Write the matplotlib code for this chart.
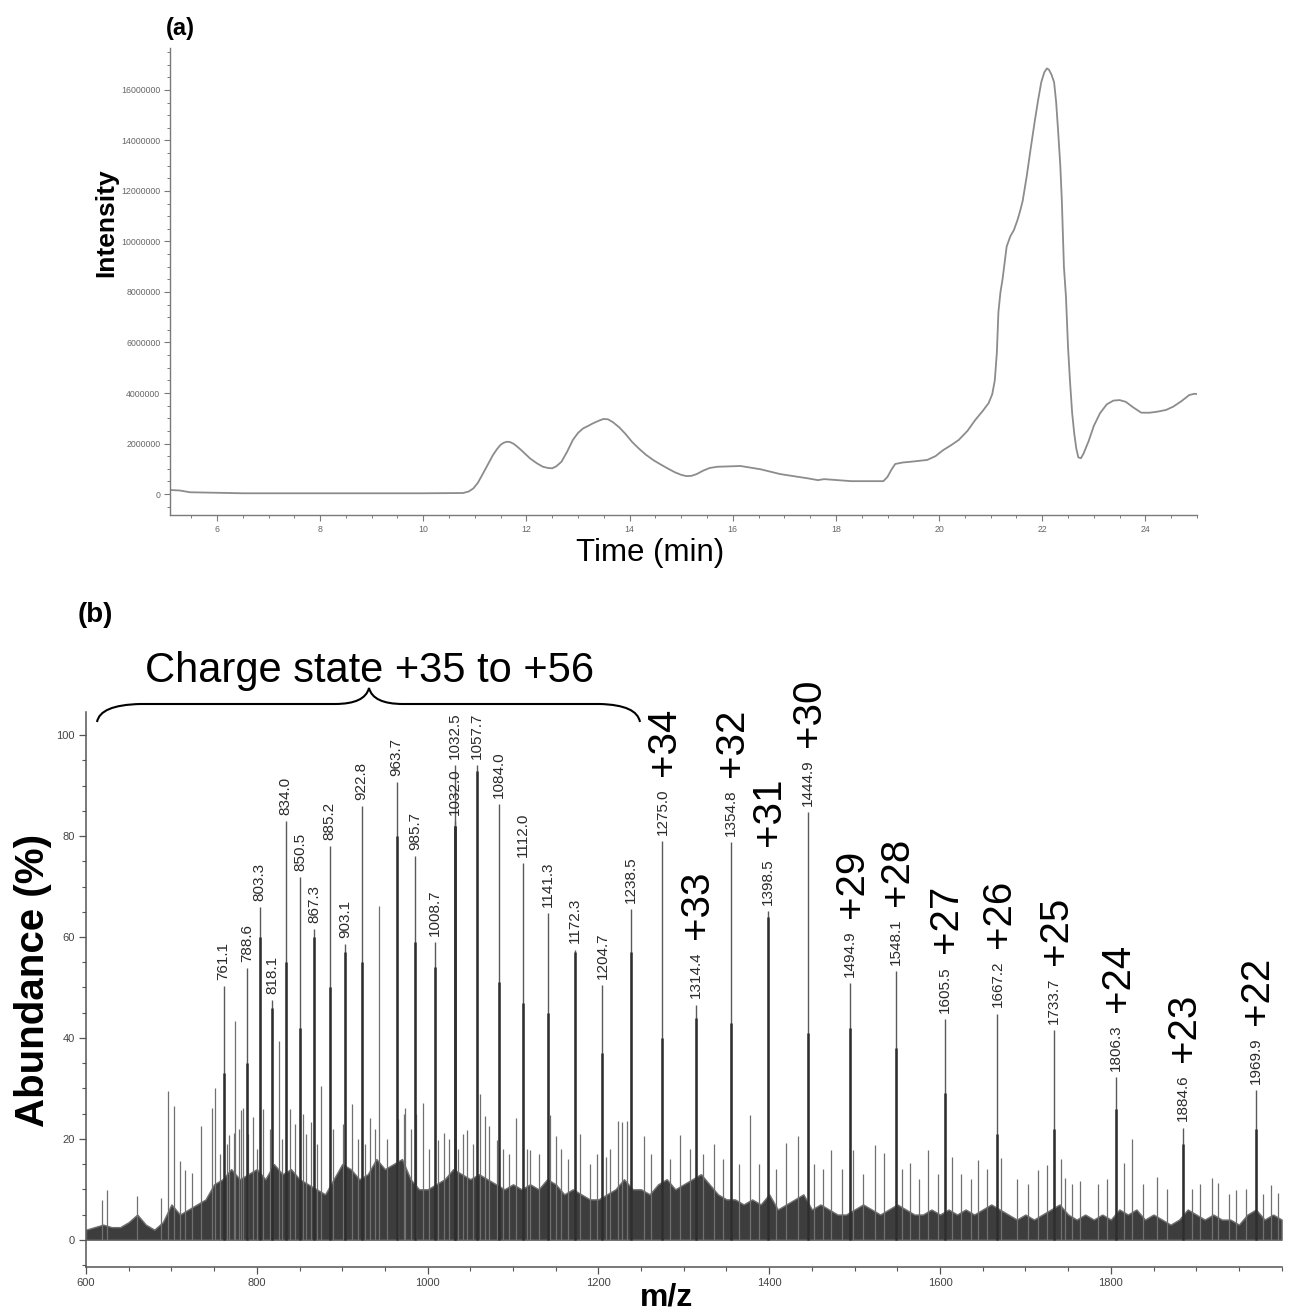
import matplotlib
matplotlib.use("Agg")
import matplotlib.pyplot as plt
from matplotlib.path import Path
from matplotlib.patches import PathPatch
from matplotlib.ticker import MultipleLocator, FuncFormatter

plt.rcParams['font.family'] = ['Liberation Sans', 'DejaVu Sans']

# ---------------- Panel (a): chromatogram ----------------
time_min = [5.09, 5.28, 5.48, 5.8, 6.0, 6.5, 8.0, 10.0, 10.77, 10.88, 10.97, 11.06, 11.16,
            11.26, 11.35, 11.43, 11.5, 11.56, 11.62, 11.68, 11.75, 11.82, 11.92, 12.07, 12.2,
            12.32, 12.42, 12.5, 12.58, 12.68, 12.79, 12.9, 13.0, 13.1, 13.2, 13.29, 13.4,
            13.49, 13.58, 13.68, 13.8, 13.92, 14.05, 14.18, 14.32, 14.47, 14.62, 14.75,
            14.88, 15.0, 15.1, 15.2, 15.3, 15.42, 15.55, 15.7, 16.15, 16.54, 16.92, 17.2,
            17.46, 17.65, 17.77, 18.3, 18.92, 19.0, 19.08, 19.15, 19.3, 19.46, 19.77, 19.93,
            20.08, 20.23, 20.38, 20.55, 20.7, 20.85, 20.96, 21.03, 21.08, 21.12, 21.15, 21.19,
            21.23, 21.31, 21.38, 21.45, 21.52, 21.57, 21.62, 21.7, 21.77, 21.85, 21.92, 21.98,
            22.04, 22.09, 22.13, 22.18, 22.23, 22.27, 22.31, 22.35, 22.38, 22.42, 22.46, 22.5,
            22.54, 22.58, 22.62, 22.66, 22.7, 22.75, 22.8, 22.9, 23.0, 23.12, 23.25, 23.38,
            23.5, 23.62, 23.75, 23.92, 24.08, 24.23, 24.4, 24.54, 24.7, 24.85, 24.95, 25.0]
intensity_M = [0.16, 0.14, 0.07, 0.06, 0.05, 0.03, 0.03, 0.03, 0.04, 0.1, 0.22, 0.45, 0.82,
               1.2, 1.54, 1.78, 1.95, 2.03, 2.07, 2.06, 1.99, 1.88, 1.7, 1.41, 1.22,
               1.08, 1.03, 1.02, 1.1, 1.28, 1.68, 2.14, 2.42, 2.6, 2.7, 2.8, 2.9,
               2.97, 2.96, 2.84, 2.64, 2.38, 2.06, 1.8, 1.55, 1.33, 1.15, 1.0,
               0.86, 0.76, 0.71, 0.72, 0.79, 0.92, 1.03, 1.08, 1.11, 0.98, 0.79, 0.7,
               0.62, 0.55, 0.59, 0.51, 0.51, 0.68, 0.98, 1.19, 1.25, 1.28, 1.35, 1.5,
               1.74, 1.93, 2.14, 2.5, 2.93, 3.3, 3.6, 3.95, 4.5, 5.6, 7.2, 8.0,
               8.5, 9.8, 10.2, 10.45, 10.85, 11.2, 11.6, 12.6, 13.6, 14.7, 15.6, 16.3,
               16.7, 16.85, 16.8, 16.6, 16.3, 15.5, 14.3, 13.0, 11.6, 9.0, 7.8, 5.8,
               4.4, 3.2, 2.4, 1.8, 1.45, 1.42, 1.6, 2.1, 2.7, 3.2, 3.55, 3.7,
               3.72, 3.65, 3.45, 3.22, 3.22, 3.26, 3.33, 3.46, 3.68, 3.92, 3.97, 3.96]
a_xticks = [6, 8, 10, 12, 14, 16, 18, 20, 22, 24]
a_yticks = [0, 2000000, 4000000, 6000000, 8000000, 10000000, 12000000, 14000000, 16000000]

# ---------------- Panel (b): mass spectrum ----------------
peak_mz = [761.1, 788.6, 803.3, 818.1, 834.0, 850.5, 867.3, 885.2, 903.1, 922.8, 963.7,
           985.7, 1008.7, 1032.0, 1032.5, 1057.7, 1084.0, 1112.0, 1141.3, 1172.3, 1204.7,
           1238.5, 1275.0, 1314.4, 1354.8, 1398.5, 1444.9, 1494.9, 1548.1, 1605.5, 1667.2,
           1733.7, 1806.3, 1884.6, 1969.9]
peak_height = [50.3, 53.9, 66.0, 47.5, 83.0, 71.8, 61.5, 78.0, 58.6, 86.0, 90.7,
               76.1, 59.0, 83.0, 94.0, 94.0, 86.3, 74.7, 64.8, 57.5, 50.4,
               65.5, 79.0, 46.6, 78.8, 65.2, 84.7, 50.9, 53.2, 43.8, 44.8,
               41.5, 32.2, 22.2, 29.6]
peak_core = [33, 35, 60, 46, 55, 42, 60, 50, 57, 55, 80,
             59, 54, 82, 82, 93, 51, 47, 45, 57, 37,
             57, 40, 44, 43, 64, 41, 42, 38, 29, 21,
             22, 26, 19, 22]
charge_mz = [1275.0, 1314.4, 1354.8, 1398.5, 1444.9, 1494.9, 1548.1, 1605.5, 1667.2,
             1733.7, 1806.3, 1884.6, 1969.9]
charge_label = ['+34', '+33', '+32', '+31', '+30', '+29', '+28', '+27', '+26',
                '+25', '+24', '+23', '+22']

minor_mz = [619, 625, 660, 688, 696.6, 703, 710, 716, 724, 735, 748, 750.7, 757, 765, 768,
            773, 774.4, 779, 781, 784, 790, 795, 800, 807, 815, 825.6, 829, 838.4, 845,
            854, 858, 864, 870, 875, 889, 901, 911, 918, 927, 933, 938, 942.9, 953, 965,
            972, 973.4, 980, 987, 994.6, 1002, 1012, 1019, 1025, 1036, 1041, 1046, 1053,
            1061, 1067.5, 1072.4, 1081, 1088, 1095, 1104, 1116, 1120, 1131, 1143.8, 1149.8,
            1156, 1164, 1179, 1190, 1198, 1209, 1214, 1222.7, 1227.6, 1233.5, 1253, 1262,
            1284, 1295.5, 1307, 1322, 1335, 1346, 1365, 1377, 1388, 1408, 1420, 1434, 1452,
            1463, 1472, 1485, 1498, 1510, 1523.8, 1534, 1555, 1565, 1575, 1586, 1598, 1614,
            1625, 1636, 1645, 1655, 1671, 1690, 1703, 1715, 1725, 1742, 1746, 1755, 1764,
            1785, 1795, 1815.5, 1824.6, 1838, 1854, 1866, 1895, 1905, 1918.7, 1926, 1938,
            1947, 1958, 1978, 1988, 1996]
minor_h = [7.9, 9.8, 8.6, 8.3, 29.4, 26.5, 15.7, 13.9, 13.2, 22.6, 26.1, 30, 17, 19, 20.8,
           21.2, 43.3, 22, 25.8, 26.1, 21, 24.4, 18, 26, 22, 39.4, 20, 26, 23,
           25, 21, 23.4, 19, 30.4, 22, 23, 27, 20, 19, 24.2, 22, 66.1, 20, 24,
           25, 26.1, 22, 25, 27.1, 18, 19.8, 21.2, 20, 18, 21, 21.8, 19,
           28.8, 24.5, 22.5, 19.8, 18, 17, 24.2, 18, 17.8, 17, 24.8, 20.6,
           18, 16, 21, 15, 17, 16.5, 18, 23.5, 23.3, 23.5, 20.6, 17,
           16, 20.8, 18, 17, 19, 16, 15, 24.8, 15, 14, 19.2, 20.5, 15,
           14, 17.8, 14, 17.8, 13, 18.8, 17.2, 14, 15.2, 12, 17.8, 13, 16.5,
           13, 12, 15.8, 14, 16.2, 12, 11, 13.9, 14.9, 16, 12.2, 11, 11.6,
           11, 12, 15.2, 19.9, 11, 12.5, 10, 10, 11, 12.2, 11.2, 9,
           9.9, 10, 9, 10.9, 9.2]

noise_mz = list(range(600, 2001, 10))
noise_top = [2, 2.5, 3, 2.5, 2.5, 3.5, 5, 3, 2, 3.5,
             7, 5, 6, 7, 8, 11, 12, 14, 12, 13,
             14, 12, 15, 13, 14, 12, 11, 10, 9, 12,
             15, 14, 12, 13, 16, 14, 15, 16, 12, 10,
             10, 11, 12, 14, 13, 12, 13, 12, 11, 10,
             11, 10, 11, 10, 12, 11, 9, 10, 9, 8,
             8, 9, 10, 12, 10, 10, 9, 11, 12, 10,
             11, 12, 13, 11, 9, 8, 8, 7, 8, 7,
             9, 6, 7, 8, 9, 6, 7, 6, 5, 5,
             6, 7, 6, 5, 6, 7, 6, 5, 5, 6,
             5, 6, 5, 6, 5, 6, 7, 6, 5, 4,
             5, 4, 5, 6, 7, 5, 4, 5, 4, 5,
             4, 6, 5, 6, 4, 5, 4, 3, 4, 6,
             5, 4, 5, 4, 4, 3, 5, 6, 4, 5, 4]
b_xticks = [600, 800, 1000, 1200, 1400, 1600, 1800]
b_yticks = [0, 20, 40, 60, 80, 100]

W, H = 1292, 1312
fig = plt.figure(figsize=(W / 100, H / 100), dpi=100)


def fx(x):
    return x / W


def fy(y):
    return 1 - y / H


# ----- axes (a)
axa = fig.add_axes([fx(170), fy(515), (1197 - 170) / W, (515 - 48) / H])
axa.plot(time_min, [v * 1e6 for v in intensity_M], color='#8c8c8c', lw=1.3,
         solid_joinstyle='round')
axa.set_xlim(5.09, 25.0)
axa.set_ylim(-830000, 17660000)
axa.set_xticks(a_xticks)
axa.set_yticks(a_yticks)
axa.yaxis.set_major_formatter(FuncFormatter(lambda v, p: f"{int(round(v))}"))
axa.xaxis.set_minor_locator(MultipleLocator(0.5))
axa.yaxis.set_minor_locator(MultipleLocator(500000))
for s in ['top', 'right']:
    axa.spines[s].set_visible(False)
for s in ['left', 'bottom']:
    axa.spines[s].set_color('#7a7a7a')
    axa.spines[s].set_linewidth(1.0)
axa.tick_params(which='major', direction='out', length=4, width=0.8, color='#7a7a7a',
                labelsize=6.3, labelcolor='#666666', pad=3)
axa.tick_params(which='minor', direction='out', length=2.5, width=0.7, color='#7a7a7a')

# ----- axes (b)
axb = fig.add_axes([fx(86), fy(1267), (1281.6 - 86) / W, (1267 - 712) / H])
axb.fill_between(noise_mz, 0, noise_top, color='#3d3d3d', lw=1.0, edgecolor='#707070', zorder=2)
axb.vlines(minor_mz, 0, minor_h, color='#707070', lw=0.9, zorder=2)
axb.vlines(peak_mz, 0, peak_height, color='#5a5a5a', lw=1.0, zorder=3)
axb.vlines(peak_mz, 0, peak_core, color='#2e2e2e', lw=1.8, zorder=3)
for mz, h in zip(peak_mz, peak_height):
    axb.annotate(f"{mz:.1f}", (mz, h), xytext=(0, 4.5), textcoords='offset points',
                 rotation=90, ha='center', va='bottom', fontsize=11, color='#2a2a2a')
for mz, lab in zip(charge_mz, charge_label):
    h = peak_height[peak_mz.index(mz)]
    axb.annotate(lab, (mz, h), xytext=(1, 47), textcoords='offset points',
                 rotation=90, ha='center', va='bottom', fontsize=29, color='black')
axb.set_xlim(600, 2000)
axb.set_ylim(-5.4, 104.6)
axb.set_xticks(b_xticks)
axb.set_yticks(b_yticks)
axb.xaxis.set_minor_locator(MultipleLocator(50))
axb.yaxis.set_minor_locator(MultipleLocator(5))
for s in ['top', 'right']:
    axb.spines[s].set_visible(False)
for s in ['left', 'bottom']:
    axb.spines[s].set_color('#555555')
    axb.spines[s].set_linewidth(1.1)
axb.tick_params(which='major', direction='out', length=5, width=0.9, color='#555555',
                labelsize=8, labelcolor='#444444', pad=3)
axb.tick_params(which='minor', direction='out', length=3, width=0.8, color='#555555')

# ----- text labels
fig.text(fx(166), fy(28), '(a)', fontsize=17, fontweight='bold', ha='left', va='center')
fig.text(fx(106), fy(223), 'Intensity', fontsize=19, fontweight='bold', rotation=90,
         ha='center', va='center')
fig.text(fx(650), fy(553), 'Time (min)', fontsize=22.5, ha='center', va='center')
fig.text(fx(78), fy(615), '(b)', fontsize=20, fontweight='bold', ha='left', va='center')
fig.text(fx(33), fy(980), 'Abundance (%)', fontsize=29, fontweight='bold', rotation=90,
         ha='center', va='center')
fig.text(fx(667), fy(1298), 'm/z', fontsize=23, fontweight='bold', ha='center', va='center')

# ----- brace and its caption (overlay in pixel coordinates)
ov = fig.add_axes([0, 0, 1, 1])
ov.set_xlim(0, W)
ov.set_ylim(H, 0)
ov.axis('off')
ov.patch.set_alpha(0)
verts = [(97, 722), (100, 705), (140, 704),
         (335, 704),
         (365, 704), (369, 688),
         (373, 704), (403, 704),
         (600, 704),
         (637, 705), (640, 722)]
codes = [Path.MOVETO, Path.CURVE3, Path.CURVE3,
         Path.LINETO,
         Path.CURVE3, Path.CURVE3,
         Path.CURVE3, Path.CURVE3,
         Path.LINETO,
         Path.CURVE3, Path.CURVE3]
ov.add_patch(PathPatch(Path(verts, codes), facecolor='none', edgecolor='black', lw=1.5))
ov.text(370, 682, 'Charge state +35 to +56', fontsize=30, ha='center', va='baseline')

fig.savefig('out.png', dpi=100, facecolor='white')
